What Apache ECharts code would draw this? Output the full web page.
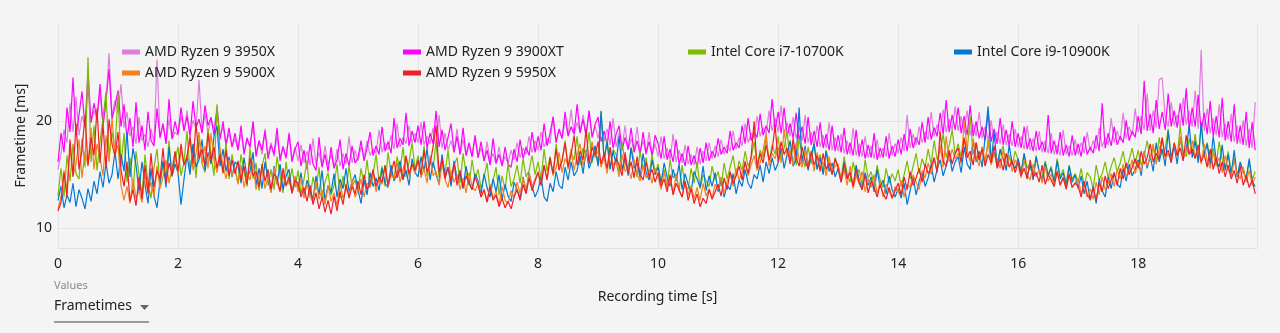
<!DOCTYPE html>
<html>
<head>
<meta charset="utf-8">
<script src="https://cdn.jsdelivr.net/npm/echarts@6/dist/echarts.min.js"></script>
<style>
html,body{margin:0;padding:0;background:#f4f4f4;}
#chart{width:1280px;height:333px;}
</style>
</head>
<body>
<div id="chart"></div>
<script>
// Sample spacing of the recording [s]
const sampleStep = 0.05;

const seriesNames = ['AMD Ryzen 9 3950X','AMD Ryzen 9 3900XT','Intel Core i7-10700K','Intel Core i9-10900K','AMD Ryzen 9 5900X','AMD Ryzen 9 5950X'];
const seriesColors = ['#de7edc','#ff00ff','#7cbb00','#0078d4','#f7801e','#ee1f2a'];
const xTickLabels = [0,2,4,6,8,10,12,14,16,18];
const yTickValues = [10,20];

const r3950x = [
15.5,17.0,19.2,18.0,21.7,19.0,22.3,18.7,20.5,19.6,23.1,19.9,21.0,20.2,22.8,19.7,21.6,26.4,20.5,22.0,
20.8,23.5,19.4,20.9,18.6,19.5,17.9,20.4,18.2,18.8,17.6,19.3,18.0,25.8,18.4,19.7,17.9,20.2,18.3,19.0,
18.7,20.5,19.1,21.0,18.8,20.1,19.3,23.9,19.0,20.7,18.9,20.3,19.2,21.4,18.6,19.5,17.8,18.9,17.6,18.4,
17.3,18.9,17.1,18.5,17.5,19.9,17.0,18.2,16.9,19.3,16.8,18.0,16.7,18.6,16.6,17.7,16.5,19.0,16.4,17.6,
16.3,17.8,16.1,17.2,15.9,18.4,16.0,17.1,15.8,17.7,15.9,16.9,15.7,17.4,15.8,17.0,16.0,18.6,16.1,17.3,
16.3,17.6,16.6,18.2,16.8,17.4,17.0,19.2,17.1,18.0,17.3,18.7,17.4,19.8,17.6,18.5,17.9,19.6,18.0,18.9,
18.0,19.9,17.8,18.6,17.9,19.4,17.6,20.6,17.5,18.9,17.3,18.2,17.1,19.3,16.9,18.3,16.8,17.8,16.7,18.5,
16.6,17.5,16.3,18.1,16.2,17.0,16.0,17.6,15.9,16.7,16.1,17.3,16.4,18.0,16.6,17.5,16.9,18.6,17.1,18.2,
17.3,19.0,17.6,18.4,17.9,20.5,18.1,19.2,18.4,20.0,18.7,21.1,18.8,19.9,19.0,20.6,18.9,21.0,18.6,19.6,
18.4,20.1,18.1,19.3,17.8,20.3,17.6,18.9,17.5,19.6,17.3,18.4,17.2,19.5,17.1,18.2,16.9,19.0,16.8,17.9,
16.7,18.6,16.5,17.5,16.4,18.8,16.2,17.3,16.1,17.8,16.0,16.9,15.9,17.6,16.0,17.2,16.3,18.0,16.5,17.7,
16.7,18.3,16.9,17.8,17.2,19.1,17.4,18.5,17.7,19.8,18.0,18.9,18.4,20.5,18.6,19.4,18.9,21.0,19.1,20.3,
19.0,21.5,18.8,19.9,18.6,20.4,18.4,19.5,18.2,20.6,18.0,19.0,17.8,19.6,17.6,18.7,17.5,19.9,17.3,18.5,
17.2,18.8,17.0,18.2,16.9,19.4,16.8,17.9,16.7,18.6,16.6,17.7,16.5,18.3,16.6,17.5,16.7,18.9,16.8,17.9,
17.0,18.5,17.2,20.6,17.5,18.8,17.8,19.5,18.0,19.0,18.3,20.9,18.6,19.7,18.8,21.1,19.0,20.2,19.2,21.4,
19.1,20.5,18.9,21.0,18.7,19.8,18.6,20.9,18.4,19.5,18.2,20.1,18.1,19.0,17.9,19.7,17.8,18.8,17.7,19.3,
17.6,18.6,17.4,19.6,17.3,18.4,17.2,19.1,17.1,18.2,17.0,18.9,16.9,17.8,16.8,19.2,16.9,17.7,16.8,18.3,
16.9,18.0,17.0,19.0,17.2,18.2,17.4,19.4,17.6,18.5,17.8,20.3,18.0,19.1,18.2,20.8,18.4,19.5,18.7,21.2,
19.0,20.5,19.2,22.6,19.1,21.0,19.4,23.9,24.1,20.3,19.5,21.8,19.6,20.6,19.4,22.2,19.7,21.0,19.5,22.9,
19.3,26.7,19.1,21.2,18.9,20.3,18.7,21.6,18.5,19.8,18.3,20.7,18.1,19.6,17.9,20.1,17.7,19.3,17.5,21.8
];

const r3900xt = [
16.2,18.9,17.1,21.3,19.0,24.1,18.7,20.6,22.8,19.4,24.6,19.9,21.7,20.3,23.5,19.6,22.0,24.9,20.2,21.4,
22.9,19.5,21.6,18.4,20.3,17.6,21.8,18.0,19.6,17.3,20.9,18.2,17.7,21.2,18.5,19.8,17.9,22.1,18.4,20.0,
18.8,21.3,19.1,20.5,18.6,21.9,19.4,20.2,18.9,21.5,19.6,20.4,18.7,21.1,18.3,20.0,17.8,19.4,17.6,18.9,
17.3,19.6,16.9,18.4,17.6,20.0,16.7,18.2,17.3,19.1,16.5,17.8,16.9,19.4,16.3,17.6,16.6,18.8,16.2,17.4,
18.1,15.8,17.3,15.5,17.9,16.0,15.4,18.5,15.7,16.9,15.3,17.6,15.6,16.4,18.3,15.5,17.0,15.8,17.7,16.1,
16.6,18.2,16.3,17.5,19.0,16.8,17.7,16.9,19.5,17.2,18.1,17.0,20.3,17.5,18.4,17.8,20.8,17.7,19.1,18.0,
19.6,17.8,20.0,17.5,18.9,17.9,21.0,17.6,19.2,17.3,18.5,19.8,17.1,18.6,16.9,19.4,16.8,18.0,16.7,18.7,
16.6,18.1,16.3,17.3,15.9,18.4,16.1,16.9,15.8,17.6,16.0,15.7,17.4,16.2,18.3,16.5,17.6,16.8,19.0,17.1,
18.6,17.3,19.8,17.7,18.9,20.4,18.0,19.3,18.4,20.9,18.6,19.5,18.8,21.6,18.9,20.2,18.6,21.0,18.5,19.7,
20.4,18.1,19.1,17.8,20.0,17.5,18.8,19.6,17.3,18.5,17.4,19.4,17.1,18.2,16.9,19.0,17.0,18.1,16.8,18.7,
17.9,16.5,18.6,16.4,17.4,16.2,18.3,16.0,17.0,15.8,17.7,15.9,16.8,15.7,17.5,16.1,18.0,16.3,17.2,16.6,
18.4,16.9,17.6,17.0,19.1,17.3,18.0,17.5,19.6,17.9,20.3,18.2,19.0,18.5,20.7,18.7,19.6,18.9,22.1,19.2,
20.9,18.9,21.3,18.6,19.8,18.4,20.8,18.2,19.5,17.9,20.4,17.8,19.1,17.6,19.9,17.5,18.8,17.3,19.6,17.2,
18.7,17.1,19.4,16.9,18.0,16.8,19.2,16.7,18.3,16.5,17.8,16.6,18.9,16.4,17.5,16.6,18.6,16.5,17.7,16.7,
18.3,16.9,18.8,17.2,19.3,17.5,18.5,17.8,19.9,18.0,20.4,18.3,19.4,18.6,20.8,18.8,22.0,19.0,20.6,19.2,
21.3,18.9,20.5,18.7,21.5,18.6,20.0,18.4,19.5,18.2,20.9,18.1,19.3,17.9,20.3,17.8,19.2,17.7,20.0,17.6,
18.9,17.5,19.5,17.4,18.4,17.2,19.1,17.3,18.1,17.1,20.6,17.0,18.2,16.9,19.0,16.8,17.8,16.7,18.7,16.8,
17.9,16.7,18.6,16.9,17.6,17.0,18.7,17.2,21.7,17.5,18.9,17.7,19.5,17.8,18.6,18.0,20.1,18.2,19.1,18.5,
20.5,18.8,23.8,19.1,20.7,18.9,22.0,19.3,20.9,19.2,22.6,19.5,21.0,19.4,21.7,19.6,23.1,19.3,21.3,19.5,
22.5,19.1,20.8,18.8,21.9,18.6,20.5,18.5,22.2,18.2,20.0,18.1,21.6,17.9,19.6,17.8,20.9,17.5,19.9,17.3
];

const i7_10700k = [
13.0,15.6,12.9,16.8,14.4,17.9,15.1,14.6,18.4,15.7,26.0,16.2,19.6,15.4,18.1,20.3,22.8,16.5,19.0,17.2,
22.7,15.8,18.9,14.3,16.6,13.4,17.2,15.0,13.1,16.9,14.2,12.8,15.7,17.4,13.9,16.1,14.6,18.2,14.8,16.3,
17.6,14.9,16.2,19.1,15.3,17.8,14.7,18.5,16.0,15.2,19.3,16.8,14.9,21.6,17.3,15.1,18.0,14.6,16.9,15.4,
14.2,16.9,15.3,13.9,17.5,14.6,16.1,13.5,15.8,17.0,14.0,15.5,13.6,16.7,14.9,13.3,16.2,14.1,15.6,13.8,
15.4,13.2,14.6,16.3,12.9,14.8,13.6,15.7,12.7,14.3,15.2,13.1,14.0,16.0,12.8,14.9,13.5,15.8,13.9,14.5,
13.4,15.6,14.1,16.4,13.8,15.0,16.9,14.3,15.8,13.9,17.1,15.2,14.6,16.7,15.4,17.6,14.8,16.2,18.0,15.5,
16.8,15.0,17.7,14.9,16.3,15.6,18.1,14.7,16.0,15.2,17.3,14.4,15.9,16.6,14.2,17.0,15.1,14.0,16.4,14.6,
15.5,13.7,14.8,16.1,13.4,14.5,15.7,13.1,14.9,13.6,16.0,13.9,14.6,15.9,14.2,16.5,14.8,15.4,16.8,15.0,
16.2,14.6,17.4,15.3,16.7,14.9,17.9,15.8,16.3,18.2,15.5,17.0,16.4,18.6,15.9,17.5,16.8,19.0,16.1,17.7,
15.9,20.9,16.4,18.3,15.6,17.4,16.9,15.2,18.0,16.1,15.4,17.6,16.3,14.8,17.2,15.5,16.6,14.9,16.9,15.1,
16.0,14.3,15.5,13.8,16.4,14.7,15.1,13.5,15.9,14.0,13.6,15.6,14.2,16.2,13.7,15.0,14.4,13.9,15.8,14.5,
15.3,13.9,16.1,14.6,15.7,16.8,14.9,16.3,15.4,17.2,15.8,16.5,18.1,15.9,17.3,16.6,18.5,16.2,17.8,16.9,
18.6,16.4,17.5,19.1,16.2,17.8,15.9,18.4,16.8,15.7,17.6,16.0,18.0,15.5,16.9,15.2,17.3,16.1,15.0,16.6,
15.8,14.6,16.7,15.1,14.3,16.2,14.9,15.5,13.9,16.4,14.7,15.3,14.0,15.9,14.5,13.8,15.6,14.2,15.1,14.4,
15.5,13.9,15.0,16.3,14.6,15.8,17.0,15.1,16.5,15.7,17.4,16.0,18.2,16.4,17.1,18.8,16.6,17.7,19.2,16.9,
17.9,16.7,18.5,17.2,20.5,16.9,18.0,16.3,17.6,15.9,18.3,16.5,17.1,15.8,16.9,17.7,15.6,16.8,15.9,17.2,
16.4,15.3,17.0,15.6,16.1,14.9,16.8,15.2,14.7,16.3,15.0,15.8,14.4,16.5,14.8,15.5,14.2,15.9,14.6,15.1,
14.3,15.6,13.9,15.2,14.8,13.7,15.9,14.5,15.1,16.2,14.7,15.8,16.6,15.3,16.1,17.2,15.6,16.4,17.5,16.0,
17.3,15.9,16.8,18.2,16.4,17.6,16.1,18.5,16.9,17.4,19.3,16.6,17.9,16.8,19.5,17.2,16.7,18.4,17.0,18.8,
16.5,19.6,16.9,18.0,16.2,17.5,15.8,18.1,16.4,15.6,17.2,15.3,16.6,14.9,16.0,15.4,14.7,16.2,14.5,15.3
];

const i9_10900k = [
12.6,13.9,11.9,13.1,12.4,14.2,12.0,13.6,12.8,11.8,13.7,12.5,14.4,13.2,15.3,13.8,16.1,14.2,15.0,17.2,
14.6,16.9,15.3,19.0,14.8,17.5,15.9,13.4,16.2,14.1,12.3,15.6,13.0,11.9,14.4,16.3,13.8,17.6,14.9,16.0,
15.2,12.2,14.6,16.8,15.0,17.9,15.7,16.4,18.3,15.4,17.1,16.0,18.6,19.6,15.8,17.4,15.3,16.7,14.8,16.2,
15.9,14.2,16.6,14.8,15.3,17.1,14.0,15.6,13.7,16.2,14.5,13.4,15.8,14.1,16.0,13.6,14.9,15.5,13.3,14.7,
13.8,15.2,12.9,14.5,13.5,12.7,14.9,13.1,15.4,12.6,14.0,13.3,15.1,12.9,14.6,13.7,15.6,13.4,14.3,15.0,
13.6,12.3,14.5,13.1,15.2,13.9,14.7,13.5,15.6,14.2,13.8,15.9,14.4,15.1,16.3,14.6,15.4,14.0,16.5,15.2,
14.8,16.7,15.3,17.5,14.5,16.2,15.0,14.2,16.9,14.9,15.7,13.9,16.3,14.6,15.2,13.7,15.8,14.3,13.6,15.1,
14.4,13.2,15.1,13.8,12.9,14.6,13.4,15.0,12.7,14.1,13.0,12.5,14.3,13.6,12.8,14.8,13.3,15.2,13.9,12.9,
13.6,14.8,12.9,12.5,14.2,13.4,15.3,14.0,13.7,15.7,14.5,16.2,14.9,15.4,16.8,15.1,17.3,15.6,16.4,17.7,
15.8,21.0,16.3,18.1,15.5,17.2,16.0,18.6,15.4,16.7,14.9,17.5,15.6,16.1,14.7,17.0,15.2,14.5,16.4,15.0,
15.7,14.2,16.1,14.8,13.9,15.5,14.4,16.0,13.6,15.1,14.1,13.4,15.3,14.6,13.8,15.8,13.5,14.9,13.9,15.2,
13.4,14.7,12.9,14.0,13.6,15.1,13.2,14.5,13.9,15.5,14.2,13.7,15.0,14.6,15.9,14.3,16.2,15.1,16.6,15.4,
16.1,17.5,15.6,16.9,18.2,15.8,16.5,21.3,16.0,17.7,15.4,16.8,17.9,15.5,16.6,15.0,17.2,15.3,16.1,14.8,
15.6,14.3,16.2,14.7,15.3,13.9,15.9,14.5,13.6,15.2,14.0,14.8,13.4,15.5,13.8,14.5,13.2,14.9,13.6,12.9,
13.7,12.8,14.2,12.2,13.5,14.8,13.1,14.4,15.2,13.9,14.7,16.0,14.3,15.5,16.4,14.9,15.8,17.1,15.3,16.2,
16.7,15.2,17.6,16.0,15.5,18.3,16.2,17.2,15.7,18.6,21.4,16.1,19.0,15.8,17.4,16.5,15.4,17.8,16.0,15.6,
16.5,15.1,17.0,14.8,15.9,14.5,16.7,15.3,14.4,16.1,14.9,15.6,14.2,16.3,14.6,15.2,13.9,15.8,14.3,15.0,
13.7,14.9,13.2,14.4,12.6,13.9,12.3,14.6,13.5,12.9,14.8,13.7,15.2,14.1,13.8,15.6,14.4,16.0,14.9,15.5,
16.4,14.9,17.2,15.6,16.8,15.3,18.0,16.2,17.4,15.8,19.1,16.5,17.7,16.0,18.5,16.9,17.3,19.6,16.6,18.2,
16.1,19.9,16.8,17.9,15.9,18.6,16.4,15.7,17.8,15.4,16.9,15.0,17.3,14.8,16.2,15.3,14.6,16.5,14.4,13.9
];

const r5900x = [
11.8,12.9,15.4,13.6,17.5,14.9,16.0,18.3,14.7,17.2,15.8,19.4,15.5,17.9,16.6,14.9,18.7,16.2,20.3,16.9,
17.8,14.0,12.6,13.9,12.3,14.6,12.8,13.5,12.4,15.1,13.2,14.3,12.9,15.8,13.7,14.8,16.4,14.2,15.6,17.1,
15.0,17.3,15.9,16.6,18.4,15.4,17.0,19.0,16.1,17.7,15.6,18.9,16.3,15.2,17.5,15.8,14.6,16.4,14.9,15.7,
14.1,15.9,13.8,15.2,14.5,16.3,13.6,14.9,15.5,13.7,14.8,13.3,15.7,14.2,13.5,15.0,13.9,14.6,13.2,14.9,
13.4,14.7,12.8,14.1,13.0,12.4,14.4,12.7,13.6,12.2,14.0,12.5,13.3,12.1,14.2,12.8,13.7,13.1,14.5,12.9,
13.5,14.6,12.9,14.2,13.8,15.3,13.4,14.7,14.1,15.8,13.9,15.0,14.6,16.2,14.3,15.5,16.7,14.8,15.9,15.1,
16.3,14.7,15.6,14.2,16.8,14.9,15.3,14.0,16.1,14.5,13.8,15.4,14.3,15.0,13.6,14.7,13.3,15.2,13.9,13.5,
14.2,12.9,13.6,12.5,14.1,12.8,13.4,12.2,13.9,12.6,12.3,13.5,12.9,14.3,13.2,14.7,13.6,15.1,13.9,14.6,
15.3,14.0,15.8,14.6,16.4,15.0,15.6,17.1,15.2,16.5,15.9,17.4,15.4,16.8,17.9,15.8,17.2,16.3,18.1,16.6,
17.2,15.7,16.6,15.1,17.5,15.9,16.2,14.8,16.9,15.3,15.8,14.6,16.4,15.0,14.4,15.9,14.7,15.4,14.2,15.6,
14.8,13.6,15.3,13.9,14.5,13.2,15.0,13.5,12.9,14.4,13.1,14.0,12.7,13.8,12.6,14.2,13.0,13.7,12.8,14.1,
13.6,14.8,13.2,14.4,15.1,13.9,15.6,14.5,15.2,16.3,14.9,15.9,16.8,15.4,16.1,17.3,18.9,15.8,17.0,16.5,
17.6,16.1,19.2,16.8,17.3,15.9,18.0,16.4,15.7,17.4,16.0,16.9,15.3,17.1,15.6,16.2,14.9,16.7,15.2,15.8,
16.0,14.4,15.5,14.0,15.8,13.7,14.9,14.2,15.3,13.4,14.6,13.8,15.0,13.2,14.3,12.9,14.1,13.5,12.8,13.9,
13.3,14.5,12.9,14.1,13.8,15.0,14.3,13.6,15.4,14.7,16.1,15.0,16.6,15.3,17.8,15.7,18.6,16.2,17.4,16.5,
17.0,16.0,20.1,17.3,16.2,18.4,16.7,15.8,17.6,16.3,18.1,15.9,17.0,16.5,15.6,17.3,15.9,16.8,15.3,16.4,
15.9,14.7,16.4,15.0,14.5,16.0,14.8,15.5,14.2,15.8,14.4,15.1,13.9,15.4,14.1,14.8,13.6,15.0,13.8,14.3,
14.6,13.2,14.0,12.9,13.7,12.7,14.3,13.1,14.8,13.6,14.2,15.1,13.9,15.5,14.6,16.0,14.9,15.3,16.4,15.1,
16.2,15.3,17.1,15.8,16.6,17.9,16.0,17.4,18.3,16.5,17.0,16.2,17.8,16.7,18.6,16.4,17.5,16.9,18.2,16.6,
17.4,16.0,17.9,16.3,15.6,17.1,15.9,16.6,15.2,16.8,15.5,14.9,16.3,15.1,14.6,15.7,14.3,15.4,14.0,14.8
];

const r5950x = [
11.6,12.4,15.2,12.9,18.3,14.8,19.8,15.5,17.3,20.6,15.9,18.5,16.8,21.2,16.1,19.7,15.6,20.2,17.9,16.7,
19.0,15.4,13.9,16.2,12.5,13.6,12.1,14.8,12.7,15.9,13.3,17.0,13.8,15.4,14.6,17.5,14.2,16.1,15.0,17.2,
15.3,17.9,15.9,16.7,18.6,16.0,19.9,16.5,17.4,15.8,18.9,16.2,17.6,15.6,16.9,15.2,17.3,14.9,16.4,15.1,
16.3,14.5,15.8,14.1,16.6,14.9,15.3,13.8,16.0,14.4,15.5,13.6,15.1,14.7,13.4,15.6,14.0,14.8,13.3,14.5,
14.2,12.9,13.8,12.5,14.0,12.2,13.3,11.8,12.9,11.5,12.6,11.3,13.0,11.6,13.4,12.2,14.1,12.8,13.9,13.2,
14.4,13.1,15.0,13.6,14.2,15.5,13.9,14.8,14.3,15.9,14.0,15.2,16.3,14.7,15.6,14.5,16.8,15.1,16.0,15.4,
16.4,15.0,17.3,15.3,16.0,17.6,19.6,15.2,16.5,14.6,15.7,14.3,16.1,14.0,15.4,13.8,14.9,14.2,13.6,14.8,
14.0,12.9,13.6,12.4,13.9,12.6,13.1,12.0,12.8,11.9,12.5,11.8,12.9,13.6,12.6,14.1,13.2,14.7,13.5,14.4,
15.2,14.0,15.9,14.5,16.6,15.1,17.4,15.4,16.3,18.0,15.7,16.9,18.7,15.9,17.2,16.4,19.3,16.0,17.6,16.8,
18.1,16.0,17.0,15.6,17.6,15.3,16.6,15.9,14.9,17.1,15.2,16.2,14.7,16.7,15.0,14.5,16.2,14.8,15.5,14.3,
15.2,13.9,14.6,13.4,15.0,13.1,14.2,13.6,12.9,14.4,12.6,13.7,12.3,13.2,12.0,12.8,12.3,13.6,12.7,13.4,
14.1,13.0,14.7,13.6,15.3,14.2,14.9,15.8,14.5,16.2,15.1,16.7,20.0,15.6,17.0,16.1,17.8,16.4,17.3,19.6,
16.2,18.1,16.9,17.5,16.0,18.4,16.6,15.8,17.6,16.3,15.6,17.2,15.9,16.8,15.3,17.0,15.5,16.1,15.0,16.5,
15.6,14.3,16.0,14.6,15.2,13.9,15.5,14.2,13.6,15.0,13.3,14.4,13.8,12.9,14.1,13.2,12.7,13.8,12.8,13.5,
14.2,13.1,14.8,13.6,15.3,14.0,14.7,15.6,14.3,16.0,15.1,15.7,16.6,15.2,19.0,16.3,15.8,17.3,16.0,17.0,
17.5,16.2,18.4,16.6,17.2,15.9,18.0,16.4,17.4,15.8,16.9,16.1,17.7,15.6,16.5,15.4,17.0,15.7,16.3,15.2,
16.2,14.9,15.6,14.6,16.4,14.8,15.2,14.3,15.9,14.1,15.0,14.5,13.9,15.3,14.0,14.7,13.7,15.1,13.8,14.2,
13.9,12.9,14.4,13.1,12.7,13.8,12.6,14.2,13.4,14.9,13.7,14.5,15.2,14.0,15.6,14.6,16.1,15.0,15.7,16.5,
15.6,17.2,16.0,16.6,17.9,16.2,17.0,16.4,18.5,16.7,17.3,16.1,18.0,16.8,17.5,16.3,18.7,16.9,17.4,16.5,
17.8,16.2,16.9,15.7,17.4,15.5,16.6,15.1,16.2,14.8,15.9,14.6,15.4,14.2,15.8,14.0,14.9,13.8,14.5,13.2
];

const seriesValues = [r3950x, r3900xt, i7_10700k, i9_10900k, r5900x, r5950x];

const toPairs = vals => vals.map((v, i) => [+(i * sampleStep).toFixed(2), v]);

const FONT = 'Noto Sans';
const legendCols = [
  {left: 122, names: [seriesNames[0], seriesNames[4]]},
  {left: 403, names: [seriesNames[1], seriesNames[5]]},
  {left: 688, names: [seriesNames[2]]},
  {left: 954, names: [seriesNames[3]]}
];

const chart = echarts.init(document.getElementById('chart'), null, {renderer: 'canvas'});
chart.setOption({
  backgroundColor: '#f4f4f4',
  animation: false,
  color: seriesColors,
  textStyle: {fontFamily: FONT},
  grid: {left: 58, right: 23, top: 23, bottom: 85, containLabel: false},
  legend: legendCols.map(c => ({
    orient: 'vertical',
    left: c.left,
    top: 44,
    itemWidth: 18,
    itemHeight: 5,
    itemGap: 5,
    icon: 'rect',
    padding: 0,
    data: c.names,
    textStyle: {fontFamily: FONT, fontSize: 14, color: '#222', lineHeight: 16}
  })),
  xAxis: {
    type: 'value',
    min: 0,
    max: 19.98,
    interval: 2,
    name: 'Recording time [s]',
    nameLocation: 'middle',
    nameGap: 42,
    nameTextStyle: {fontFamily: FONT, fontSize: 14, color: '#222'},
    axisLine: {show: true, lineStyle: {color: '#e2e2e2'}},
    axisTick: {show: false},
    axisLabel: {
      fontFamily: FONT, fontSize: 14, color: '#222', margin: 9, showMaxLabel: false,
      formatter: v => xTickLabels.indexOf(v) >= 0 ? String(v) : ''
    },
    splitLine: {show: true, lineStyle: {color: '#e4e4e4', width: 1}}
  },
  yAxis: {
    type: 'value',
    min: 8.13,
    max: 29.22,
    name: 'Frametime [ms]',
    nameLocation: 'middle',
    nameGap: 30,
    nameMoveOverlap: false,
    nameTextStyle: {fontFamily: FONT, fontSize: 14, color: '#222'},
    axisLine: {show: false},
    axisTick: {show: false, customValues: yTickValues},
    axisLabel: {fontFamily: FONT, fontSize: 14, color: '#222', margin: 6, customValues: yTickValues},
    splitLine: {show: true, lineStyle: {color: '#e4e4e4', width: 1}}
  },
  graphic: [
    {type: 'text', left: 54, top: 280, style: {text: 'Values', font: '11px "Noto Sans"', fill: '#8a8a8a'}},
    {type: 'text', left: 54, top: 299, style: {text: 'Frametimes', font: '14px "Noto Sans"', fill: '#222'}},
    {type: 'polygon', shape: {points: [[140, 305], [149, 305], [144.5, 310]]}, style: {fill: '#666'}},
    {type: 'rect', shape: {x: 54, y: 321, width: 95, height: 2}, style: {fill: '#9a9a9a'}}
  ],
  series: seriesNames.map((n, k) => ({
    name: n,
    type: 'line',
    data: toPairs(seriesValues[k]),
    showSymbol: false,
    symbol: 'none',
    lineStyle: {width: 1.2, color: seriesColors[k]},
    itemStyle: {color: seriesColors[k]},
    emphasis: {disabled: true}
  }))
});
</script>
</body>
</html>
